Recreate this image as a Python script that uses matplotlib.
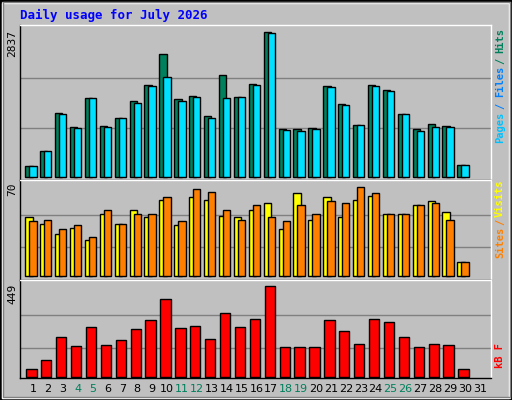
import matplotlib
matplotlib.use("Agg")
import matplotlib.pyplot as plt
from matplotlib.patches import Rectangle

days = list(range(1, 32))
hits = [205,507,1258,969,1547,989,1162,1489,1797,2413,1528,1585,1200,1990,1566,1817,2837,931,931,950,1778,1431,1008,1797,1701,1239,931,1027,989,225,0]
files = [205,507,1239,950,1547,969,1162,1451,1778,1951,1489,1566,1162,1547,1566,1797,2818,911,892,931,1759,1412,1008,1778,1682,1239,892,969,969,225,0]
sites = [46,41,33,38,28,49,41,52,46,60,40,62,60,47,46,52,57,37,65,44,62,46,60,63,49,49,56,59,50,11,0]
visits = [43,44,37,40,31,52,41,49,49,62,43,68,66,52,44,56,46,43,56,49,59,57,70,65,49,49,56,57,44,11,0]
kbytes = [36,85,198,154,247,159,184,238,282,385,243,252,188,316,247,287,449,149,149,149,282,228,164,287,272,198,149,164,159,36,0]
weekend = [4,5,11,12,18,19,25,26]

W, H = 512, 400
BG = "#C0C0C0"
fig = plt.figure(figsize=(W/100, H/100), dpi=100, facecolor=BG)
fig.patches.append(Rectangle((0, 0), 1, 1, transform=fig.transFigure, fill=False, ec="black", lw=2))
fig.patches.append(Rectangle((2/W, 2/H), 1-5/W, 1-5/H, transform=fig.transFigure, fill=False, ec="white", lw=1))
fig.patches.append(Rectangle((3/W, 3/H), 1-5/W, 1-5/H, transform=fig.transFigure, fill=False, ec="#808080", lw=1))

def ax_at(x0, y0, x1, y1):
    ax = fig.add_axes([x0/W, 1-y1/H, (x1-x0)/W, (y1-y0)/H])
    ax.set_facecolor(BG)
    ax.set_xlim(0.13, 31.74)
    ax.set_xticks([]); ax.set_yticks([])
    for s in ax.spines.values():
        s.set_color("black"); s.set_linewidth(1)
    ax.spines["top"].set_color("white"); ax.spines["right"].set_color("white")
    return ax

def pairs(vals, off):
    xs = [x + off for x, v in zip(days, vals) if v > 0]
    ys = [v for v in vals if v > 0]
    return xs, ys

mono = "DejaVu Sans Mono"
def side(y, s, c, va="top"):
    fig.text(500/W, 1-y/H, s, rotation=90, color=c, fontsize=7.5, fontweight="bold",
             family=mono, ha="center", va=va)

fig.text(20/W, 1-15/H, "Daily usage for July 2026", color="#0000FF", fontsize=9, fontweight="bold", family=mono, va="center")

# Top
a1 = ax_at(20, 25, 491, 180)
a1.set_ylim(-60, 2837/0.955)
for g in (950, 1932):
    a1.axhline(g, color="#808080", lw=1, zorder=0)
a1.bar(*pairs(hits, -0.52), width=0.49, align="edge", color="#00805C", ec="black", lw=1, zorder=2)
a1.bar(*pairs(files, -0.25), width=0.49, align="edge", color="#00E0FF", ec="black", lw=1, zorder=3)
fig.text(12/W, 1-30/H, "2837", rotation=90, fontsize=8, family=mono, ha="center", va="top")
side(28, "Hits", "#00805C")
side(61, "/", "#00805C", "center")
side(66, "Files", "#0080FF")
side(106, "/", "#0080FF", "center")
side(112, "Pages", "#00C0FF")

# Middle
a2 = ax_at(20, 180, 491, 280)
a2.set_ylim(-3, 70/0.93)
for g in (23, 48):
    a2.axhline(g, color="#808080", lw=1, zorder=0)
a2.bar(*pairs(sites, -0.52), width=0.49, align="edge", color="#FFFF00", ec="black", lw=1, zorder=2)
a2.bar(*pairs(visits, -0.25), width=0.49, align="edge", color="#FF8000", ec="black", lw=1, zorder=3)
fig.text(12/W, 1-182/H, "70", rotation=90, fontsize=8, family=mono, ha="center", va="top")
side(180, "Visits", "#FFFF00")
side(222, "/", "#FF8000", "center")
side(227, "Sites", "#FF8000")

# Bottom
a3 = ax_at(20, 280, 491, 378)
a3.set_ylim(-6, 449/0.94)
for g in (144, 306):
    a3.axhline(g, color="#808080", lw=1, zorder=0)
a3.bar(*pairs(kbytes, -0.45), width=0.69, align="edge", color="#FF0000", ec="black", lw=1, zorder=2)
fig.text(12/W, 1-284/H, "449", rotation=90, fontsize=8, family=mono, ha="center", va="top")
side(355, "kB F", "#FF0000", "center")

for i in days:
    x = 20 + (i - 0.13) * 14.9
    fig.text(x/W, 1-389/H, str(i), fontsize=8, family="DejaVu Sans",
             color="#00805C" if i in weekend else "black", ha="center", va="center")

fig.savefig("out.png", dpi=100, facecolor=BG)
